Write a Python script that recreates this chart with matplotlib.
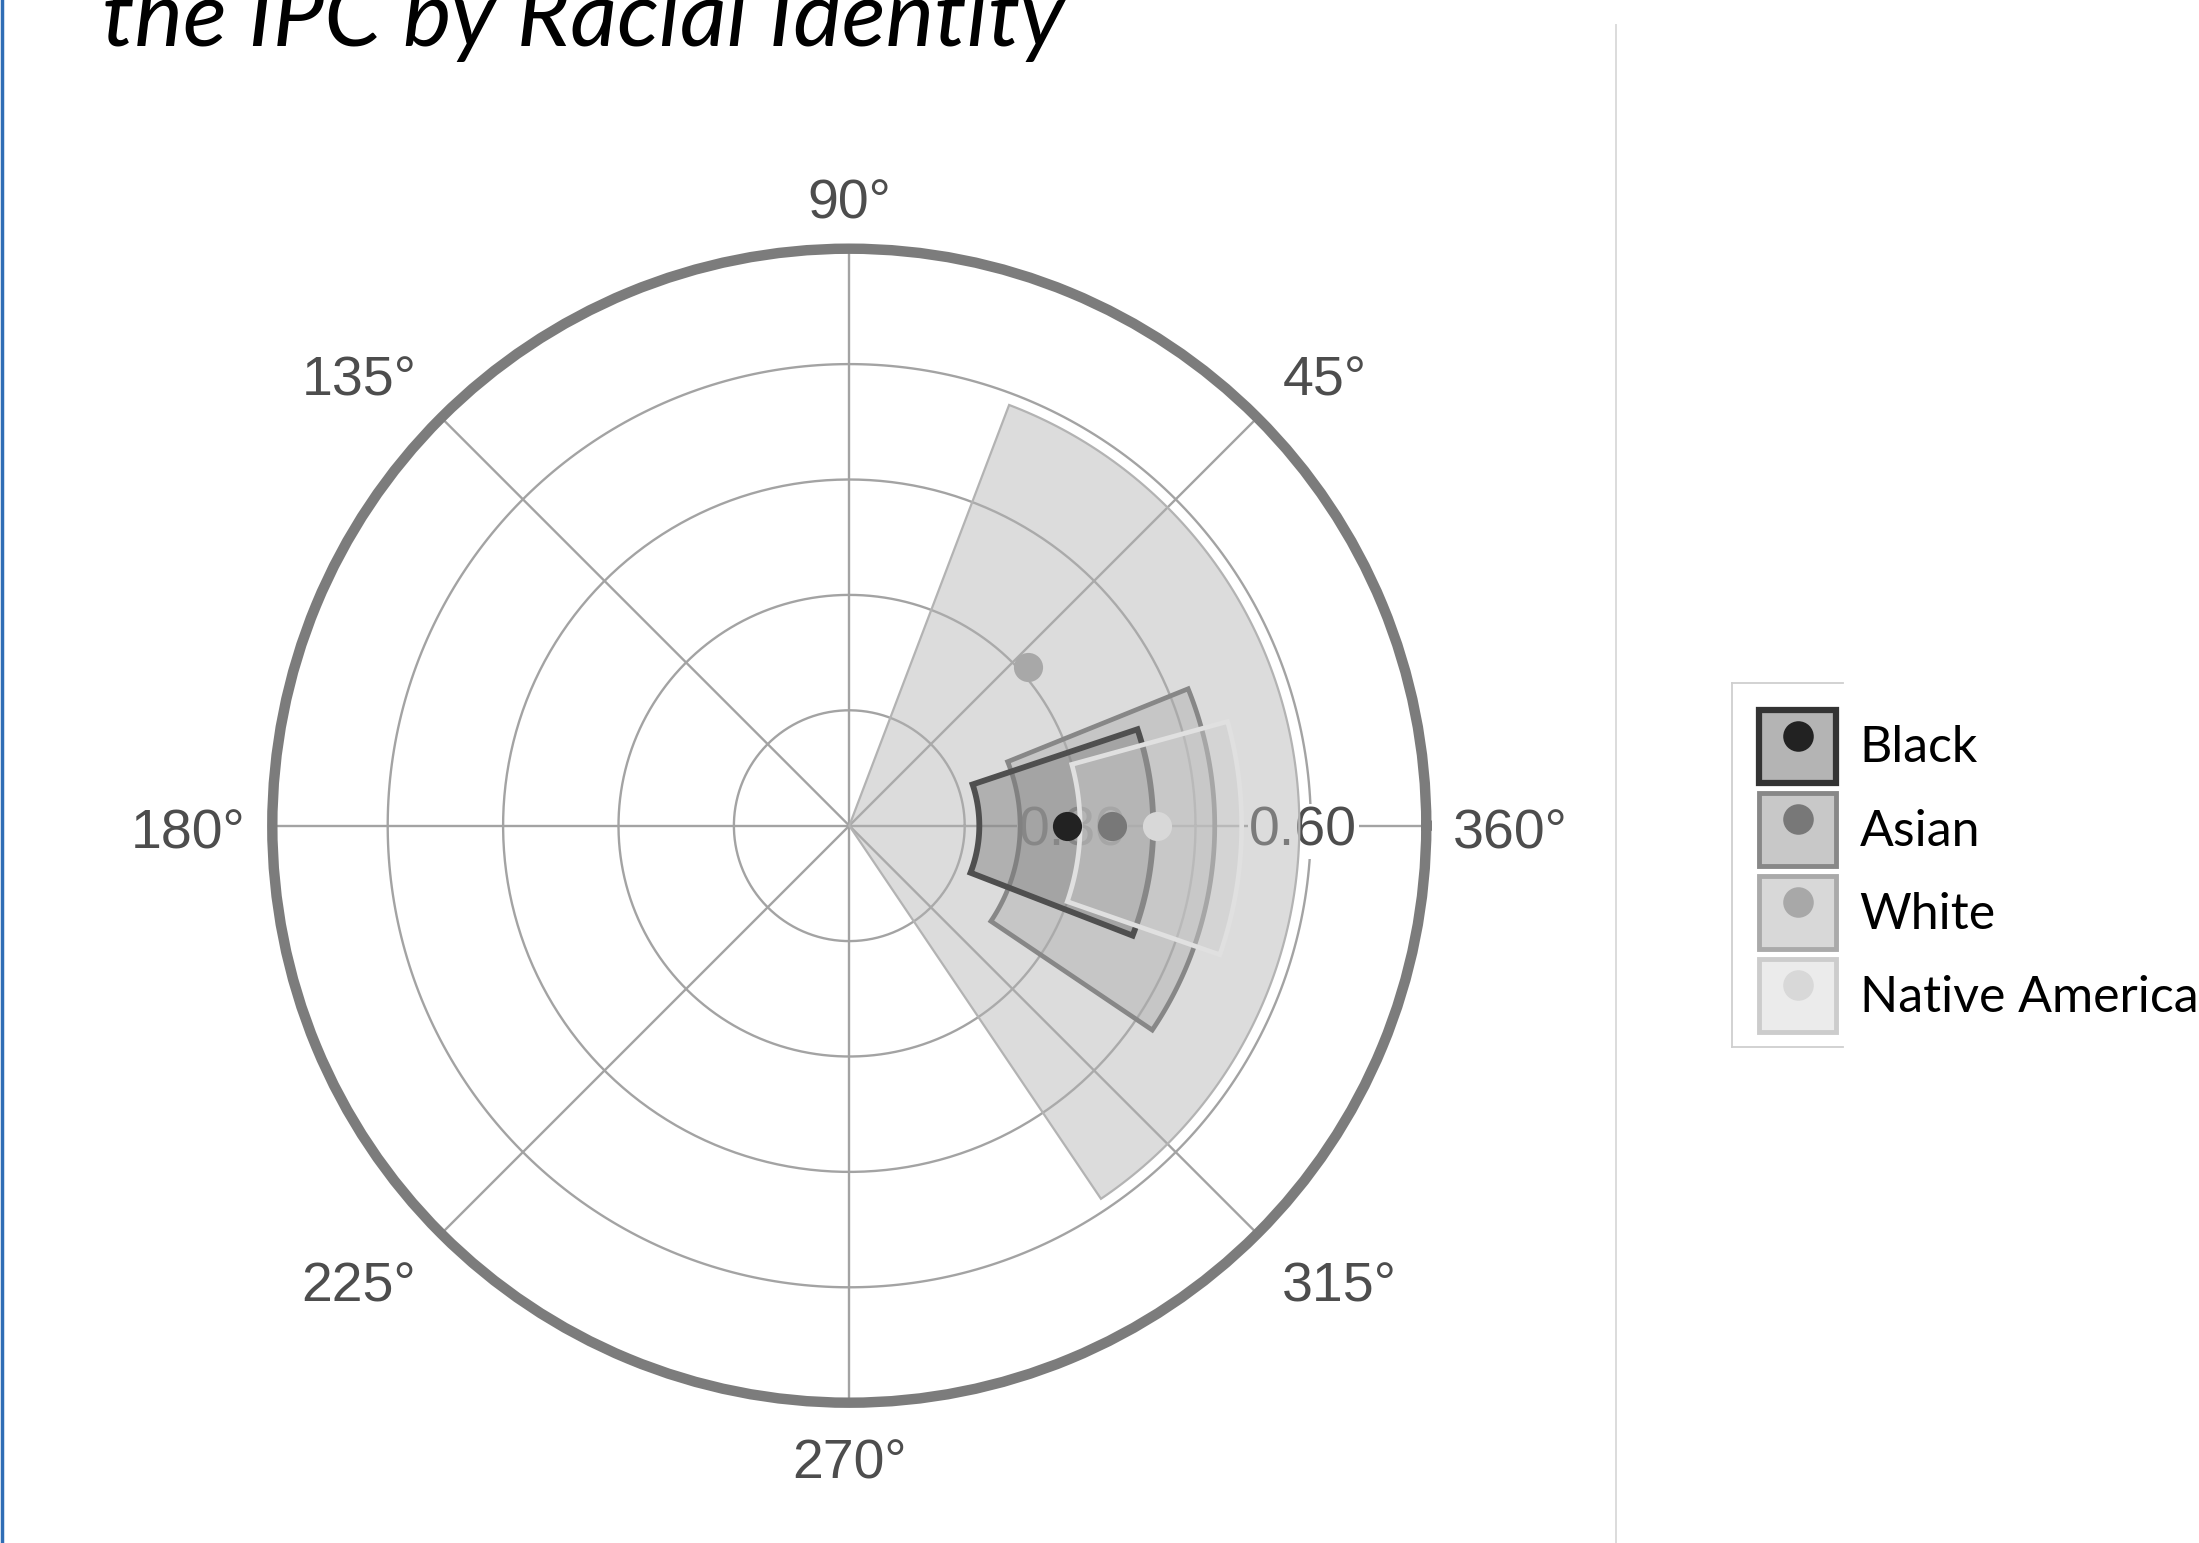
import numpy as np
import matplotlib
matplotlib.use("Agg")
import matplotlib.pyplot as plt
from matplotlib.lines import Line2D
from matplotlib.patches import Rectangle
from matplotlib.colors import to_rgba
from matplotlib.transforms import ScaledTranslation
from matplotlib.legend_handler import HandlerTuple

# groups and their circumplex parameters (displacement in degrees, amplitude)
groups = ['Black', 'Asian', 'White', 'Native American']
disp = [0.0, 0.0, 41.6, 0.0]
disp_lo = [-21.2, -34.0, -56.0, -19.2]
disp_hi = [18.5, 22.0, 69.2, 15.4]
amp = [0.283, 0.342, 0.311, 0.400]
amp_lo = [0.169, 0.222, 0.0, 0.300]
amp_hi = [0.395, 0.475, 0.585, 0.510]

# styling per group
point_cols = ['#222222', '#787878', '#a8a8a8', '#d8d8d8']
edge_cols = ['#4f4f4f', '#878787', '#b3b3b3', '#e0e0e0']
fill_cols = ['#7c7c7c', '#acacac', '#b3b3b3', '#cbcbcb']
edge_lw = [4.2, 3.4, 1.6, 3.4]
key_fill = ['#b4b4b4', '#c8c8c8', '#d8d8d8', '#ebebeb']
key_edge = ['#333333', '#888888', '#aaaaaa', '#cccccc']
fill_alpha = 0.46
draw_order = ['White', 'Asian', 'Black', 'Native American']

ring_values = [0.15, 0.30, 0.45, 0.60]
ring_labels = {0.30: '0.30', 0.60: '0.60'}
r_max = 0.75
angle_ticks = [0, 45, 90, 135, 180, 225, 270, 315]
angle_labels = ['360°', '45°', '90°', '135°', '180°', '225°', '270°', '315°']

grid_col = '#a3a3a3'
text_col = '#4d4d4d'

fig = plt.figure(figsize=(21.99, 15.43), dpi=100)
ax = fig.add_axes([0.12383, 0.09093, 0.52478, 0.74789], projection='polar')
ax.set_ylim(0, r_max)
ax.set_xticks([])
ax.set_yticks([])
ax.grid(False)
ax.spines['polar'].set_linewidth(7.5)
ax.spines['polar'].set_color('#7c7c7c')

# grid rings and spokes
full = np.linspace(0, 2 * np.pi, 400)
for rv in ring_values:
    ax.plot(full, np.full_like(full, rv), color=grid_col, lw=1.7, zorder=1)
for a in angle_ticks:
    ax.plot([np.radians(a)] * 2, [0, r_max], color=grid_col, lw=1.7, zorder=1)

# radial labels (drawn below the wedges)
down = ScaledTranslation(0, -6 / 100, fig.dpi_scale_trans)
for rv, lab in ring_labels.items():
    ax.text(0, rv - 0.01, lab, ha='center', va='center', fontsize=40,
            family='Liberation Sans', color=text_col, zorder=1.5,
            transform=ax.transData + down,
            bbox=dict(facecolor='white', edgecolor='none', pad=1))

# angle labels
for a, lab in zip(angle_ticks, angle_labels):
    c, s = np.cos(np.radians(a)), np.sin(np.radians(a))
    ha = 'left' if c > 0.3 else ('right' if c < -0.3 else 'center')
    va = 'bottom' if s > 0.3 else ('top' if s < -0.3 else 'center')
    dx = 6 * np.sign(c) if (abs(c) > 0.3 and abs(s) > 0.3) else 0
    shift = ScaledTranslation(dx / 100, -9 / 100, fig.dpi_scale_trans)
    ax.text(np.radians(a), 0.785, lab, ha=ha, va=va, fontsize=40,
            family='Liberation Sans', color=text_col,
            transform=ax.transData + shift)

# wedges
for z, g in enumerate(draw_order):
    i = groups.index(g)
    t = np.radians(np.linspace(disp_lo[i], disp_hi[i], 150))
    th = np.concatenate([t, t[::-1]])
    rr = np.concatenate([np.full(t.size, amp_hi[i]), np.full(t.size, amp_lo[i])])
    ax.fill(th, rr, facecolor=to_rgba(fill_cols[i], fill_alpha),
            edgecolor=edge_cols[i], lw=edge_lw[i], zorder=3 + z)

# points
for g in draw_order:
    i = groups.index(g)
    ax.plot(np.radians(disp[i]), amp[i], 'o', color=point_cols[i], markersize=21,
            mec='none', zorder=10)

# legend
handles = []
for i, g in enumerate(groups):
    box = Rectangle((0, 0), 1, 1, facecolor=key_fill[i], edgecolor=key_edge[i],
                    lw=4.5 if i == 0 else 3.5)
    dot = Line2D([], [], marker='o', ls='', color=point_cols[i], markersize=22, mec='none')
    handles.append((box, dot))
fig.legend(handles, groups, loc='upper left', bbox_to_anchor=(0.8000, 0.5399),
           frameon=False, borderpad=0, borderaxespad=0, handlelength=1.54,
           handleheight=1.87, handletextpad=0.47, labelspacing=0.2,
           prop=dict(family=['Lato', 'DejaVu Sans'], size=36),
           handler_map={tuple: HandlerTuple(ndivide=1)})

# legend frame (partially visible in the source)
frame_kw = dict(color='#cfcfcf', lw=1.3, transform=fig.transFigure)
fig.add_artist(Line2D([0.7875, 0.7875], [0.3217, 0.5572], **frame_kw))
fig.add_artist(Line2D([0.7875, 0.8380], [0.5572, 0.5572], **frame_kw))
fig.add_artist(Line2D([0.7875, 0.8380], [0.3217, 0.3217], **frame_kw))

# slide decorations
fig.add_artist(Line2D([0.0008, 0.0008], [0, 1], color='#2f6db5', lw=2.5,
                      transform=fig.transFigure))
fig.add_artist(Line2D([0.7347, 0.7347], [0, 0.9838], color='#dcdcdc', lw=1.4,
                      transform=fig.transFigure))

fig.text(0.0464, 0.9702, 'the IPC by Racial Identity', fontsize=66,
         style='italic', family=['Lato', 'DejaVu Sans'], va='baseline')

fig.savefig('out.png', dpi=100)
